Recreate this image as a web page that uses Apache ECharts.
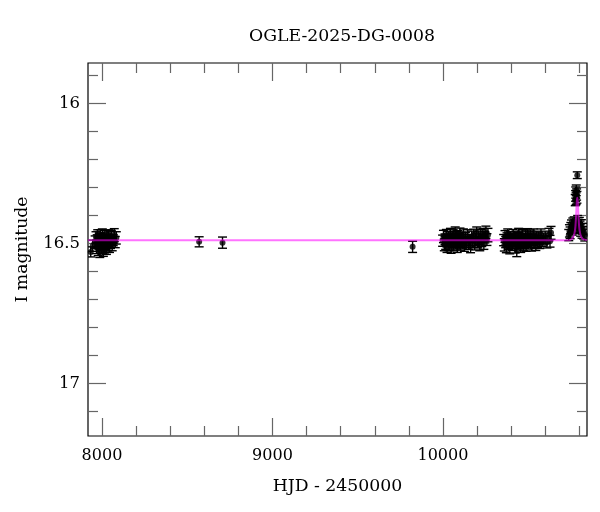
<!DOCTYPE html>
<html>
<head>
<meta charset="utf-8">
<script src="https://cdn.jsdelivr.net/npm/echarts@6/dist/echarts.min.js"></script>
<style>
html,body{margin:0;padding:0;background:#fff;}
#chart{width:600px;height:512px;}
</style>
</head>
<body>
<div id="chart"></div>
<script>
// ---- data (HJD-2450000, I mag, error) ----
const season2018 = [
 [7934,16.530,0.018],[7946,16.508,0.020],[7960,16.495,0.022],[7965,16.478,0.020],[7968,16.512,0.024],
 [7972,16.490,0.021],[7975,16.470,0.019],[7978,16.520,0.023],[7981,16.500,0.020],[7984,16.485,0.022],
 [7987,16.530,0.020],[7990,16.475,0.024],[7993,16.505,0.021],[7996,16.492,0.019],[7999,16.515,0.022],
 [8002,16.468,0.020],[8005,16.498,0.023],[8008,16.525,0.021],[8011,16.482,0.020],[8014,16.510,0.024],
 [8017,16.472,0.019],[8020,16.500,0.022],[8023,16.488,0.020],[8026,16.518,0.021],[8029,16.478,0.023],
 [8032,16.495,0.020],[8035,16.505,0.022],[8038,16.470,0.019],[8041,16.490,0.021],[8044,16.512,0.020],
 [8047,16.480,0.024],[8050,16.498,0.020],[8055,16.475,0.022],[8060,16.505,0.021],[8066,16.488,0.020],
 [8072,16.470,0.023],[8078,16.495,0.020],[8084,16.480,0.022]
];
const sparsePoints = [
 [8570,16.494,0.018],[8707,16.497,0.020],[9822,16.512,0.020]
];
const season2023 = [
 [9998,16.490,0.020],[10003,16.475,0.022],[10008,16.505,0.021],[10012,16.485,0.019],[10016,16.498,0.023],
 [10020,16.470,0.020],[10024,16.510,0.022],[10028,16.488,0.020],[10032,16.478,0.021],[10036,16.502,0.024],
 [10040,16.492,0.020],[10044,16.468,0.022],[10048,16.515,0.020],[10052,16.484,0.021],[10056,16.496,0.019],
 [10060,16.474,0.023],[10064,16.506,0.020],[10068,16.488,0.022],[10072,16.462,0.021],[10076,16.500,0.020],
 [10080,16.482,0.024],[10084,16.512,0.020],[10088,16.476,0.022],[10092,16.494,0.020],[10096,16.486,0.021],
 [10100,16.468,0.023],[10104,16.504,0.020],[10108,16.490,0.022],[10112,16.478,0.019],[10116,16.498,0.021],
 [10120,16.470,0.022],[10126,16.508,0.020],[10132,16.484,0.024],[10138,16.495,0.020],[10144,16.473,0.022],
 [10150,16.500,0.021],[10156,16.488,0.020],[10162,16.510,0.023],[10168,16.476,0.020],[10174,16.492,0.022],
 [10180,16.470,0.021],[10186,16.503,0.020],[10192,16.485,0.022],[10198,16.462,0.021],[10204,16.496,0.020],
 [10210,16.480,0.024],[10216,16.506,0.020],[10222,16.472,0.022],[10228,16.490,0.021],[10234,16.466,0.020],
 [10240,16.498,0.023],[10246,16.478,0.020],[10252,16.460,0.022],[10258,16.486,0.021],[10264,16.470,0.024]
];
const season2024 = [
 [10356,16.488,0.020],[10360,16.505,0.022],[10364,16.475,0.021],[10368,16.495,0.020],[10372,16.510,0.023],
 [10376,16.482,0.020],[10380,16.470,0.022],[10384,16.500,0.021],[10388,16.488,0.020],[10392,16.515,0.022],
 [10396,16.478,0.020],[10400,16.496,0.023],[10404,16.484,0.021],[10408,16.505,0.020],[10412,16.472,0.022],
 [10416,16.492,0.020],[10420,16.486,0.021],[10424,16.510,0.024],[10428,16.476,0.020],[10433,16.525,0.022],
 [10436,16.498,0.020],[10440,16.482,0.021],[10444,16.468,0.022],[10448,16.500,0.020],[10452,16.488,0.023],
 [10456,16.512,0.020],[10460,16.478,0.022],[10464,16.494,0.021],[10468,16.470,0.020],[10472,16.504,0.022],
 [10476,16.486,0.020],[10480,16.496,0.021],[10484,16.475,0.023],[10488,16.508,0.020],[10492,16.488,0.022],
 [10496,16.468,0.021],[10500,16.500,0.020],[10505,16.482,0.024],[10510,16.495,0.020],[10515,16.474,0.022],
 [10520,16.506,0.021],[10525,16.488,0.020],[10530,16.470,0.022],[10535,16.498,0.020],[10540,16.484,0.021],
 [10545,16.502,0.023],[10550,16.476,0.020],[10555,16.492,0.022],[10560,16.480,0.021],[10568,16.498,0.020],
 [10575,16.470,0.022],[10582,16.490,0.020],[10590,16.484,0.021],[10600,16.478,0.022],[10610,16.496,0.020],
 [10622,16.468,0.022],[10628,16.492,0.021],[10634,16.462,0.023]
];
const season2025 = [
 [10738,16.470,0.020],[10742,16.455,0.022],[10746,16.462,0.021],[10750,16.445,0.020],[10754,16.438,0.022],
 [10758,16.450,0.020],[10762,16.430,0.021],[10766,16.442,0.022],[10770,16.425,0.020],[10773,16.435,0.021],
 [10776,16.345,0.020],[10778,16.330,0.019],[10779,16.318,0.020],[10781,16.340,0.021],[10782,16.310,0.019],
 [10784,16.325,0.020],[10786,16.335,0.021],[10788,16.256,0.012],[10790,16.420,0.020],[10793,16.430,0.022],
 [10796,16.445,0.020],[10800,16.428,0.021],[10804,16.440,0.020],[10808,16.452,0.022],[10812,16.435,0.020],
 [10816,16.460,0.021],[10820,16.448,0.020],[10826,16.462,0.022],[10832,16.470,0.021]
];
const modelHjd = [7918,10740,10755,10765,10772,10777,10781,10785,10788,10791,10795,10799,10804,10811,10821,10845];
const modelMag = [16.488,16.488,16.484,16.476,16.462,16.440,16.400,16.352,16.337,16.352,16.400,16.440,16.462,16.476,16.484,16.488];
const xMajorTicks = [8000,9000,10000];
const xMinorTicks = [8200,8400,8600,8800,9200,9400,9600,9800,10200,10400,10600,10800];
const yMajorTicks = [16,16.5,17];
const yMinorTicks = [15.9,16.1,16.2,16.3,16.4,16.6,16.7,16.8,16.9,17.1];
const X_MIN = 7918, X_MAX = 10845, Y_MIN = 15.855, Y_MAX = 17.188;

const allObs = [].concat(season2018, sparsePoints, season2023, season2024, season2025);
const FONT = 'DejaVu Serif';
const tickColor = '#666';

function xAx(pos, ticks, len, labels){
  return {
    type:'value', position:pos, min:X_MIN, max:X_MAX, gridIndex:0,
    axisLine:{show:false}, splitLine:{show:false},
    axisTick:{show:true, inside:true, length:len, customValues:ticks, lineStyle:{color:tickColor, width:1.2}},
    axisLabel:{show:labels, customValues:ticks, margin:12, fontFamily:FONT, fontSize:16, color:'#000',
      formatter:function(v){ return String(Math.round(v)); }},
    name: labels ? 'HJD - 2450000' : '', nameLocation:'middle', nameGap:42,
    nameTextStyle:{fontFamily:FONT, fontSize:17.3, color:'#000'}
  };
}
function yAx(pos, ticks, len, labels){
  return {
    type:'value', position:pos, min:Y_MIN, max:Y_MAX, inverse:true, gridIndex:0,
    axisLine:{show:false}, splitLine:{show:false},
    axisTick:{show:true, inside:true, length:len, customValues:ticks, lineStyle:{color:tickColor, width:1.2}},
    axisLabel:{show:labels, customValues:ticks, margin:8, fontFamily:FONT, fontSize:16.5, color:'#000',
      formatter:function(v){ return String(Math.round(v*10)/10); }},
    name: labels ? 'I magnitude' : '', nameLocation:'middle', nameGap:57,
    nameTextStyle:{fontFamily:FONT, fontSize:17.3, color:'#000'}
  };
}

const chart = echarts.init(document.getElementById('chart'), null, {renderer:'canvas'});
const option = {
  animation:false,
  backgroundColor:'#fff',
  title:{text:'OGLE-2025-DG-0008', left:337, top:23, textAlign:'center',
    textStyle:{fontFamily:FONT, fontSize:17.3, fontWeight:'normal', color:'#000'}},
  grid:{left:88, right:13, top:63, bottom:76, show:true, borderColor:'#000', borderWidth:1.2,
    backgroundColor:'transparent', containLabel:false},
  xAxis:[ xAx('bottom', xMajorTicks, 18, true), xAx('top', xMajorTicks, 18, false),
          xAx('bottom', xMinorTicks, 10, false), xAx('top', xMinorTicks, 10, false) ],
  yAxis:[ yAx('left', yMajorTicks, 18, true), yAx('right', yMajorTicks, 18, false),
          yAx('left', yMinorTicks, 10, false), yAx('right', yMinorTicks, 10, false) ],
  series:[
    {
      type:'custom', xAxisIndex:0, yAxisIndex:0, z:2, clip:true,
      data: allObs,
      renderItem:function(params, api){
        const x = api.value(0), y = api.value(1), e = api.value(2);
        const pTop = api.coord([x, y - e]);
        const pBot = api.coord([x, y + e]);
        const cw = 4.5;
        const st = {stroke:'#000', lineWidth:1.4};
        return {type:'group', children:[
          {type:'line', shape:{x1:pTop[0], y1:pTop[1], x2:pBot[0], y2:pBot[1]}, style:st},
          {type:'line', shape:{x1:pTop[0]-cw, y1:pTop[1], x2:pTop[0]+cw, y2:pTop[1]}, style:st},
          {type:'line', shape:{x1:pBot[0]-cw, y1:pBot[1], x2:pBot[0]+cw, y2:pBot[1]}, style:st}
        ]};
      }
    },
    {
      type:'scatter', xAxisIndex:0, yAxisIndex:0, z:3,
      data: allObs.map(d => [d[0], d[1]]),
      symbol:'circle', symbolSize:6,
      itemStyle:{color:'#000'}
    },
    {
      type:'line', xAxisIndex:0, yAxisIndex:0, z:4,
      data: modelHjd.map((h,i) => [h, modelMag[i]]),
      showSymbol:false, smooth:0.3,
      lineStyle:{color:'rgba(255,0,255,0.55)', width:2}
    }
  ]
};
chart.setOption(option);
</script>
</body>
</html>
